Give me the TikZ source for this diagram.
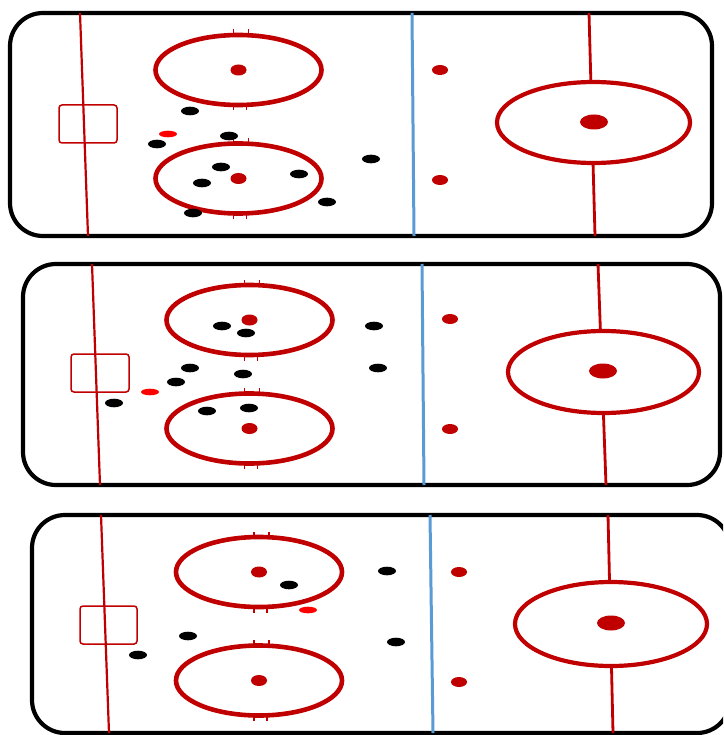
\documentclass[tikz,border=0pt]{standalone}
\definecolor{rinkred}{HTML}{C00000}
\definecolor{rinkblue}{HTML}{5B9BD5}
\definecolor{puckred}{HTML}{FF0000}
\tikzset{
  boards/.style={draw=black, line width=4.2pt, rounded corners=33pt},
  goalline/.style={draw=rinkred, line width=2.2pt},
  crease/.style={draw=rinkred, line width=1.5pt, rounded corners=3pt},
  fcircle/.style={draw=rinkred, line width=4.6pt},
  hashmark/.style={draw=rinkred, line width=1.6pt},
  blueline/.style={draw=rinkblue, line width=3pt},
  centerline/.style={draw=rinkred, line width=2.8pt},
  ccircle/.style={draw=rinkred, fill=white, line width=4.2pt},
  dotred/.style={fill=rinkred},
  player/.style={fill=black},
  puck/.style={fill=puckred}
}
\newcommand\faceoffcircle[2]{%
  \begin{scope}[shift={(#1,#2)}]
    \draw[fcircle] (0,0) ellipse [x radius=83pt, y radius=35pt];
    \fill[dotred] (0,0) ellipse [x radius=8pt, y radius=5.5pt];
    \draw[hashmark] (-5,-34) -- (-5,-40.5);
    \draw[hashmark] (10,-34) -- (10,-40.5);
    \draw[hashmark] (-5,34) -- (-5,40.5);
    \draw[hashmark] (8,34) -- (8,40.5);
  \end{scope}}
\newcommand\neutraldot[2]{\fill[dotred] (#1,#2) ellipse [x radius=8pt, y radius=5pt];}
\newcommand\plr[2]{\fill[player] (#1,#2) ellipse [x radius=9pt, y radius=4.3pt];}
\newcommand\pck[2]{\fill[puck] (#1,#2) ellipse [x radius=9pt, y radius=3.3pt];}
\begin{document}
\begin{tikzpicture}[x=1pt,y=-1pt]
\useasboundingbox (0,0) rectangle (723,735);
\clip (0,0) rectangle (723,735);
\fill[white] (0,0) rectangle (723,735);
% ---------- Panel 1 ----------
\draw[boards] (10,13) rectangle (712,236);
\draw[goalline] (80,13) -- (88,236);
\draw[crease] (59,105) rectangle (117,143);
\faceoffcircle{238.5}{70}
\faceoffcircle{238.5}{178.5}
\draw[blueline] (412,13) -- (414,236);
\neutraldot{440}{70}
\neutraldot{440}{180}
\draw[centerline] (589,13) -- (595,236);
\filldraw[ccircle] (593.5,122.5) ellipse [x radius=96.5pt, y radius=40.5pt];
\fill[dotred] (594,122) ellipse [x radius=14pt, y radius=7.5pt];
\plr{190}{111}
\pck{168}{134}
\plr{157}{144}
\plr{229}{136}
\plr{221}{167}
\plr{202}{183}
\plr{299}{174}
\plr{327}{202}
\plr{193}{213}
\plr{371}{159}
% ---------- Panel 2 ----------
\draw[boards] (23,264) rectangle (720,485);
\draw[goalline] (92,264) -- (100,485);
\draw[crease] (71,354) rectangle (129,392);
\faceoffcircle{249.5}{320}
\faceoffcircle{249.5}{428.5}
\draw[blueline] (422,264) -- (424,485);
\neutraldot{450}{319}
\neutraldot{450}{429}
\draw[centerline] (598,264) -- (606,485);
\filldraw[ccircle] (603.5,372) ellipse [x radius=95.5pt, y radius=41pt];
\fill[dotred] (603,371) ellipse [x radius=14pt, y radius=7.5pt];
\plr{222}{326}
\plr{246}{333}
\plr{374}{326}
\plr{190}{368}
\plr{176}{382}
\plr{243}{374}
\plr{378}{368}
\pck{150}{392}
\plr{114}{403}
\plr{207}{411}
\plr{249}{408}
% ---------- Panel 3 ----------
\draw[boards] (32,515) rectangle (730,733);
\draw[goalline] (101,515) -- (109,733);
\draw[crease] (80,606) rectangle (137,644);
\faceoffcircle{259}{572}
\faceoffcircle{259}{680.5}
\draw[blueline] (430,515) -- (433,733);
\neutraldot{459}{572}
\neutraldot{459}{682}
\draw[centerline] (608,515) -- (613,733);
\filldraw[ccircle] (611,624) ellipse [x radius=96pt, y radius=42pt];
\fill[dotred] (611,623) ellipse [x radius=14pt, y radius=7.5pt];
\plr{289}{585}
\pck{308}{610}
\plr{188}{636}
\plr{138}{655}
\plr{387}{571}
\plr{396}{642}
\end{tikzpicture}
\end{document}
